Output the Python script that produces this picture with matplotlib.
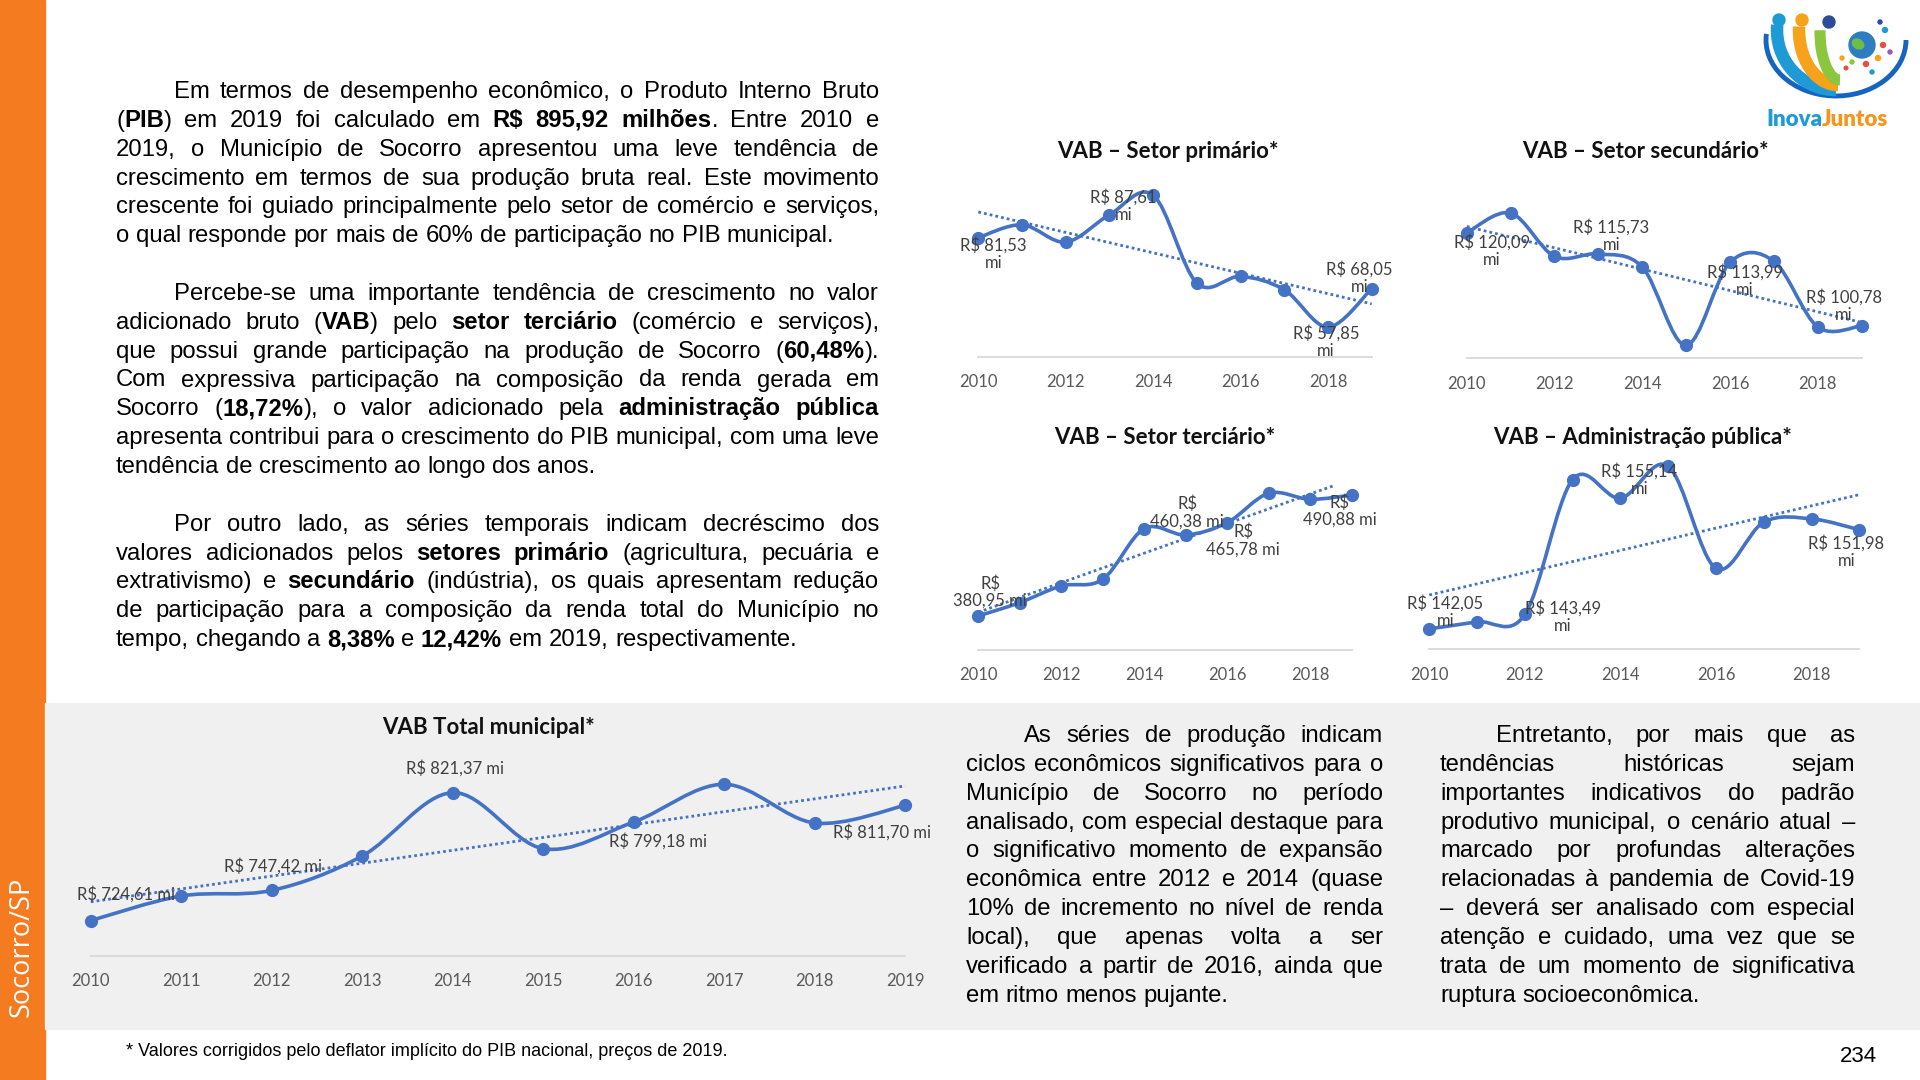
import numpy as np
import matplotlib.pyplot as plt
from matplotlib.path import Path
from matplotlib.patches import PathPatch, Rectangle, Circle, Arc, Ellipse
from matplotlib.transforms import IdentityTransform

W, H = 1920, 1080
BLUE = '#4472C4'
ORANGE = '#F47B20'
GRAY_BG = '#F0F0F0'
CHART_FONT = 'Lato'
BODY_FONT = 'Liberation Sans'

# ---- data (R$ milhões, valores de 2019) ----
years = np.arange(2010, 2020)
primario = [81.53, 84.96, 80.37, 87.61, 92.82, 69.51, 71.28, 67.74, 57.85, 68.05]
secundario = [120.09, 124.25, 115.23, 115.73, 113.01, 96.70, 113.99, 114.19, 100.52, 100.78]
terciario = [380.95, 393.07, 408.22, 414.28, 460.38, 454.58, 465.78, 492.45, 487.00, 490.88]
adm_publica = [142.05, 142.75, 143.49, 157.01, 155.14, 158.35, 148.10, 152.74, 153.07, 151.98]
vab_total = [724.61, 743.19, 747.42, 773.45, 821.37, 779.00, 799.18, 827.68, 798.42, 811.70]

# which points carry a data label
lab_primario = [0, 3, 8, 9]
lab_secundario = [0, 3, 6, 9]
lab_terciario = [0, 4, 6, 9]
lab_adm = [0, 2, 4, 9]
lab_total = [0, 2, 4, 6, 9]

# ---- texts ----
par1 = [
    "Em termos de desempenho econômico, o Produto Interno Bruto",
    "(**PIB**) em 2019 foi calculado em **R$ 895,92 milhões**. Entre 2010 e",
    "2019, o Município de Socorro apresentou uma leve tendência de",
    "crescimento em termos de sua produção bruta real. Este movimento",
    "crescente foi guiado principalmente pelo setor de comércio e serviços,",
    "o qual responde por mais de 60% de participação no PIB municipal.",
]
par2 = [
    "Percebe-se uma importante tendência de crescimento no valor",
    "adicionado bruto (**VAB**) pelo **setor terciário** (comércio e serviços),",
    "que possui grande participação na produção de Socorro (**60,48%**).",
    "Com expressiva participação na composição da renda gerada em",
    "Socorro (**18,72%**), o valor adicionado pela **administração pública**",
    "apresenta contribui para o crescimento do PIB municipal, com uma leve",
    "tendência de crescimento ao longo dos anos.",
]
par3 = [
    "Por outro lado, as séries temporais indicam decréscimo dos",
    "valores adicionados pelos **setores primário** (agricultura, pecuária e",
    "extrativismo) e **secundário** (indústria), os quais apresentam redução",
    "de participação para a composição da renda total do Município no",
    "tempo, chegando a **8,38%** e **12,42%** em 2019, respectivamente.",
]
par_mid = [
    "As séries de produção indicam",
    "ciclos econômicos significativos para o",
    "Município de Socorro no período",
    "analisado, com especial destaque para",
    "o significativo momento de expansão",
    "econômica entre 2012 e 2014 (quase",
    "10% de incremento no nível de renda",
    "local), que apenas volta a ser",
    "verificado a partir de 2016, ainda que",
    "em ritmo menos pujante.",
]
par_right = [
    "Entretanto, por mais que as",
    "tendências históricas sejam",
    "importantes indicativos do padrão",
    "produtivo municipal, o cenário atual –",
    "marcado por profundas alterações",
    "relacionadas à pandemia de Covid-19",
    "– deverá ser analisado com especial",
    "atenção e cuidado, uma vez que se",
    "trata de um momento de significativa",
    "ruptura socioeconômica.",
]
footnote = "* Valores corrigidos pelo deflator implícito do PIB nacional, preços de 2019."

fig = plt.figure(figsize=(W / 100, H / 100), dpi=100)
fig.patch.set_facecolor('white')
renderer = fig.canvas.get_renderer()


def add_axes_px(x0, y0, x1, y1):
    return fig.add_axes([x0 / W, 1 - y1 / H, (x1 - x0) / W, (y1 - y0) / H])


# background bands
fig.add_artist(Rectangle((0, 0), 45 / W, 1, transform=fig.transFigure,
                         color=ORANGE, zorder=-10))
fig.add_artist(Rectangle((45 / W, 1 - 1029 / H), 1 - 45 / W, (1029 - 703) / H,
                         transform=fig.transFigure, color=GRAY_BG, zorder=-10))
fig.text(22 / W, 1 - 947 / H, "Socorro/SP", rotation=90, color='white',
         fontsize=19.5, family='Open Sans', ha='center', va='center')


# ---- justified paragraphs ----
def parse_words(line):
    chars = []
    for i, part in enumerate(line.split('**')):
        for ch in part:
            chars.append((ch, i % 2 == 1))
    words, cur = [], []
    for ch, b in chars:
        if ch == ' ':
            if cur:
                words.append(cur)
                cur = []
        else:
            cur.append((ch, b))
    if cur:
        words.append(cur)
    out = []
    for w in words:
        segs = []
        for ch, b in w:
            if segs and segs[-1][1] == b:
                segs[-1][0] += ch
            else:
                segs.append([ch, b])
        out.append(segs)
    return out


def measure(txt, bold, size):
    t = fig.text(0, 0, txt, fontsize=size, family=BODY_FONT,
                 fontweight='bold' if bold else 'normal')
    w = t.get_window_extent(renderer=renderer).width
    t.remove()
    return w


BODY_SIZE = 17.2
blocks = [
    (par1, 116, 879, 174, 98),
    (par2, 116, 879, 174, 98 + 7 * 28.85),
    (par3, 116, 879, 174, 98 + 15 * 28.85),
    (par_mid, 966, 1383, 1024, 742),
    (par_right, 1440, 1855, 1496, 742),
]

# shrink the font if some justified line cannot fit
space_w = BODY_SIZE * 0.278 * 100 / 72
worst = 1.0
for lines, x0, x1, xi, yb in blocks:
    for k, line in enumerate(lines[:-1]):
        words = parse_words(line)
        tot = sum(measure(s, b, BODY_SIZE) for w in words for s, b in w)
        tot += space_w * 0.65 * (len(words) - 1)
        avail = x1 - (xi if k == 0 else x0)
        worst = max(worst, tot / avail)
BODY_SIZE = BODY_SIZE / worst
space_w = BODY_SIZE * 0.278 * 100 / 72

for lines, x0, x1, xi, yb in blocks:
    for k, line in enumerate(lines):
        words = parse_words(line)
        start = xi if k == 0 else x0
        widths = []
        for w in words:
            widths.append([measure(s, b, BODY_SIZE) for s, b in w])
        tot = sum(sum(ws) for ws in widths)
        last = k == len(lines) - 1
        gap = space_w if (last or len(words) < 2) else (x1 - start - tot) / (len(words) - 1)
        x = start
        y = H - (yb + k * 28.85)
        for w, ws in zip(words, widths):
            for (s, b), sw in zip(w, ws):
                fig.text(x, y, s, transform=IdentityTransform(), fontsize=BODY_SIZE,
                         family=BODY_FONT, fontweight='bold' if b else 'normal',
                         color='black', ha='left', va='baseline')
                x += sw
            x += gap

fig.text(126 / W, 1 - 1051 / H, footnote, fontsize=13, family=BODY_FONT,
         ha='left', va='center', color='black')
fig.text(1877 / W, 1 - 1056 / H, "234", fontsize=16, family=BODY_FONT,
         ha='right', va='center', color='black')


# ---- charts ----
def smooth_path(x, y):
    pts = np.column_stack([np.asarray(x, float), np.asarray(y, float)])
    n = len(pts)
    verts, codes = [pts[0]], [Path.MOVETO]
    for i in range(n - 1):
        p0, p1 = pts[max(i - 1, 0)], pts[i]
        p2, p3 = pts[i + 1], pts[min(i + 2, n - 1)]
        verts += [p1 + (p2 - p0) / 6, p2 - (p3 - p1) / 6, p2]
        codes += [Path.CURVE4] * 3
    return Path(verts, codes)


def vab_chart(box, values, ylim, title, title_xy, lab_idx, offsets, fmt,
              ticks, tick_size=12, trend_end=2019):
    ax = add_axes_px(*box)
    ax.set_facecolor('none')
    ax.add_patch(PathPatch(smooth_path(years, values), fc='none', ec=BLUE, lw=2.6,
                           capstyle='round', joinstyle='round', clip_on=False, zorder=2))
    ax.plot(years, values, 'o', ms=8.5, color=BLUE, clip_on=False, zorder=3)
    k, b = np.polyfit(years, values, 1)
    tx = np.array([2010, trend_end])
    ax.plot(tx, k * tx + b, ls=(0, (1, 1.1)), lw=2.0, color=BLUE,
            clip_on=False, zorder=4)
    for i, (dx, dy) in zip(lab_idx, offsets):
        txt = fmt.format(f"{values[i]:.2f}".replace('.', ','))
        ax.annotate(txt, (years[i], values[i]), xytext=(dx, -dy),
                    textcoords='offset pixels', ha='center', va='center',
                    multialignment='center', fontsize=12, family=CHART_FONT,
                    color='#404040', linespacing=1.1, zorder=5)
    ax.set_xlim(2010, 2019)
    ax.set_ylim(*ylim)
    for s in ['top', 'left', 'right']:
        ax.spines[s].set_visible(False)
    ax.spines['bottom'].set_color('#D9D9D9')
    ax.spines['bottom'].set_linewidth(1.3)
    ax.set_yticks([])
    ax.set_xticks(ticks)
    ax.set_xticklabels([str(t) for t in ticks], family=CHART_FONT)
    ax.tick_params(axis='x', length=0, labelsize=tick_size, colors='#595959', pad=12.5)
    fig.text(title_xy[0] / W, 1 - title_xy[1] / H, title, fontsize=16,
             fontweight='bold', family=CHART_FONT, ha='center', va='center',
             color='#111111')
    return ax


even_years = list(range(2010, 2019, 2))
vab_chart((978.3, 168, 1371.7, 356.7), primario, (50, 100),
          "VAB – Setor primário*", (1168, 152), lab_primario,
          [(15, 16), (14, -9), (-2, 15), (-12, -11)], "R$ {}\nmi", even_years)
vab_chart((1466.7, 166.2, 1861.7, 358.3), secundario, (94, 134),
          "VAB – Setor secundário*", (1645, 152), lab_secundario,
          [(25, 18), (13, -18), (15, 19), (-18, -20)], "R$ {}\nmi", even_years)
vab_chart((978.3, 452, 1351.7, 650), terciario, (350, 530),
          "VAB – Setor terciário*", (1165, 437), lab_terciario,
          [(12, -24), (43, -16), (16, 18), (-12, 16)], "R$\n{} mi", even_years,
          trend_end=2018.6)
vab_chart((1429.3, 449.7, 1859.3, 649.3), adm_publica, (140, 160),
          "VAB – Administração pública*", (1643, 437), lab_adm,
          [(16, -17), (38, 2), (19, -18), (-13, 22)], "R$ {}\nmi", even_years)
vab_chart((90.8, 754.8, 905.2, 955.7), vab_total, (698, 850),
          "VAB Total municipal*", (489, 728), lab_total,
          [(35, -26), (1, -24), (2, -24), (24, 19), (-23, 27)], "R$ {} mi",
          list(years), tick_size=12)

# ---- logo (simplified) ----
lax = add_axes_px(1755, 0, 1910, 108)
lax.set_xlim(1755, 1910)
lax.set_ylim(108, 0)
lax.axis('off')
lax.add_patch(Arc((1836, 40), 140, 112, theta1=0, theta2=185, lw=3.5, color='#1565C0'))
lax.add_patch(Arc((1836, 30), 118, 120, theta1=90, theta2=185, lw=9, color='#1E9AD6'))
lax.add_patch(Arc((1838, 30), 78, 110, theta1=90, theta2=185, lw=9, color='#F7A21B'))
lax.add_patch(Arc((1840, 32), 40, 96, theta1=90, theta2=185, lw=8, color='#8CC63F'))
lax.add_patch(Circle((1779, 20), 6, color='#1E9AD6'))
lax.add_patch(Circle((1802, 20), 6, color='#F7A21B'))
lax.add_patch(Circle((1829, 22), 6, color='#2B4C9B'))
lax.add_patch(Circle((1862, 45), 13, color='#2E7DC2'))
lax.add_patch(Ellipse((1858, 44), 12, 9, angle=30, color='#6DBE45'))
for (cx, cy, r, c) in [(1880, 22, 2, '#2B4C9B'), (1885, 30, 2.5, '#1E9AD6'),
                       (1883, 45, 2.5, '#E94E3C'), (1878, 58, 2.5, '#F7A21B'),
                       (1866, 64, 2.5, '#E94E3C'), (1852, 62, 2, '#8CC63F'),
                       (1842, 58, 2, '#F7A21B'), (1890, 52, 2, '#9B59B6'),
                       (1872, 72, 2, '#1E9AD6'), (1846, 68, 1.8, '#E94E3C')]:
    lax.add_patch(Circle((cx, cy), r, color=c))
fig.text(1822 / W, 1 - 120 / H, "Inova", color='#1E9AD6', fontsize=16,
         fontweight='heavy', family=CHART_FONT, ha='right', va='center')
fig.text(1822 / W, 1 - 120 / H, "Juntos", color='#F7941D', fontsize=16,
         fontweight='heavy', family=CHART_FONT, ha='left', va='center')

fig.savefig('out.png', dpi=100, facecolor='white')
